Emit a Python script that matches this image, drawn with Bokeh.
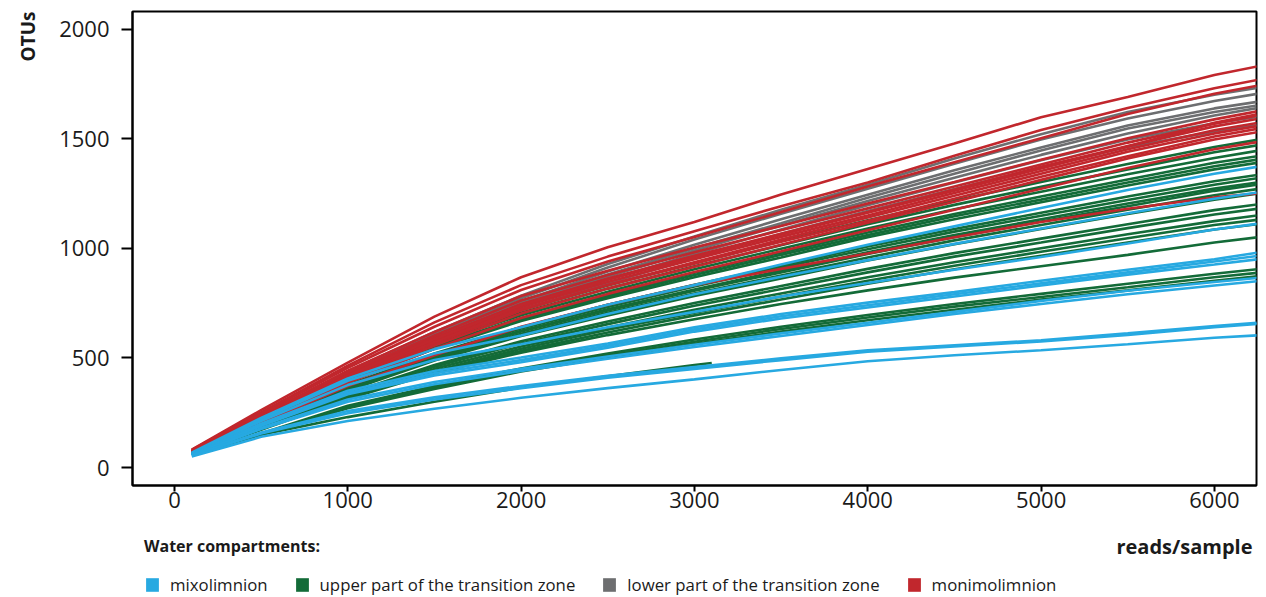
from bokeh.plotting import figure
from bokeh.layouts import column
from bokeh.models import Legend, LegendItem, Label, Range1d, FixedTicker, Title
from bokeh.embed import file_html
from bokeh.resources import INLINE

READS = [100, 500, 1000, 1500, 2000, 2500, 3000, 3500, 4000, 4500, 5000, 5500, 6000, 6250]

mixolimnion = [
    [68, 226, 406, 540, 640, 742, 832, 926, 1016, 1100, 1184, 1266, 1340, 1372],
    [66, 220, 396, 520, 602, 700, 790, 870, 946, 1020, 1090, 1160, 1226, 1255],
    [64, 212, 376, 490, 562, 640, 710, 780, 842, 902, 960, 1022, 1086, 1112],
    [62, 200, 350, 440, 502, 566, 640, 700, 752, 800, 852, 902, 950, 980],
    [60, 196, 340, 430, 490, 556, 630, 690, 740, 790, 840, 890, 940, 965],
    [60, 190, 334, 420, 480, 546, 620, 680, 730, 780, 830, 880, 926, 950],
    [58, 180, 310, 390, 450, 506, 560, 612, 660, 710, 760, 806, 846, 865],
    [58, 176, 300, 380, 440, 496, 550, 600, 650, 700, 746, 790, 830, 850],
    [56, 160, 258, 320, 372, 418, 458, 498, 535, 558, 580, 612, 645, 660],
    [55, 155, 248, 310, 362, 410, 450, 490, 528, 552, 575, 605, 640, 655],
    [50, 140, 212, 268, 318, 362, 402, 445, 485, 512, 535, 562, 592, 603],
]

upper_transition = [
    [72, 232, 430, 590, 718, 830, 934, 1032, 1128, 1218, 1302, 1384, 1462, 1495],
    [71, 225, 424, 580, 706, 816, 918, 1014, 1110, 1198, 1280, 1360, 1438, 1470],
    [70, 222, 415, 568, 694, 802, 904, 998, 1090, 1178, 1258, 1338, 1412, 1445],
    [70, 218, 406, 556, 682, 788, 888, 980, 1072, 1156, 1236, 1314, 1390, 1420],
    [69, 215, 398, 548, 674, 780, 878, 970, 1060, 1146, 1222, 1300, 1374, 1405],
    [69, 213, 392, 542, 668, 772, 868, 958, 1050, 1132, 1210, 1286, 1360, 1390],
    [68, 205, 378, 520, 640, 742, 834, 920, 1008, 1088, 1162, 1236, 1306, 1335],
    [67, 203, 372, 516, 634, 732, 826, 912, 996, 1076, 1148, 1220, 1290, 1320],
    [67, 200, 366, 508, 624, 722, 812, 898, 982, 1060, 1132, 1204, 1272, 1300],
    [66, 198, 360, 502, 620, 716, 806, 890, 974, 1050, 1122, 1192, 1262, 1290],
    [66, 195, 356, 496, 610, 706, 794, 876, 958, 1036, 1106, 1176, 1242, 1270],
    [65, 192, 350, 488, 600, 694, 782, 862, 944, 1018, 1088, 1156, 1222, 1250],
    [64, 185, 336, 468, 576, 666, 750, 828, 906, 978, 1044, 1110, 1174, 1200],
    [64, 182, 330, 460, 566, 654, 738, 814, 890, 962, 1026, 1092, 1154, 1180],
    [63, 178, 322, 450, 552, 638, 720, 794, 868, 936, 1000, 1064, 1124, 1150],
    [62, 175, 316, 440, 542, 628, 706, 780, 852, 920, 984, 1046, 1106, 1130],
    [62, 172, 312, 432, 532, 616, 694, 766, 838, 904, 966, 1026, 1086, 1110],
    [62, 175, 326, 430, 524, 604, 676, 746, 808, 866, 918, 970, 1026, 1050],
    [60, 155, 282, 372, 452, 520, 584, 642, 696, 746, 792, 838, 884, 905],
    [60, 152, 276, 366, 446, 512, 574, 632, 684, 734, 778, 822, 868, 888],
    [59, 150, 270, 358, 438, 502, 564, 620, 672, 720, 766, 808, 852, 872],
]
upper_short_reads = [100, 500, 1000, 1500, 2000, 2500, 3000, 3100]
upper_short = [64, 150, 230, 300, 365, 416, 468, 477]

lower_transition = [
    [72, 230, 438, 618, 784, 928, 1054, 1176, 1290, 1410, 1520, 1622, 1700, 1732],
    [72, 228, 434, 608, 772, 912, 1040, 1158, 1272, 1386, 1496, 1592, 1672, 1705],
    [70, 224, 428, 600, 758, 894, 1016, 1132, 1244, 1356, 1460, 1560, 1638, 1668],
    [70, 222, 424, 594, 750, 880, 1000, 1114, 1230, 1340, 1446, 1546, 1622, 1652],
    [70, 220, 420, 588, 744, 870, 990, 1104, 1216, 1322, 1426, 1524, 1606, 1640],
    [68, 218, 414, 580, 730, 856, 974, 1086, 1196, 1300, 1402, 1496, 1570, 1600],
    [68, 214, 408, 570, 720, 840, 956, 1066, 1170, 1270, 1370, 1462, 1532, 1562],
]

monimolimnion = [
    [82, 262, 478, 688, 868, 1005, 1120, 1245, 1362, 1478, 1598, 1690, 1790, 1830],
    [80, 252, 465, 662, 832, 962, 1078, 1192, 1300, 1422, 1540, 1640, 1730, 1768],
    [78, 246, 455, 642, 810, 940, 1052, 1165, 1282, 1392, 1502, 1612, 1705, 1742],
    [76, 238, 442, 618, 782, 898, 1004, 1102, 1204, 1302, 1404, 1502, 1588, 1625],
    [75, 232, 432, 602, 762, 878, 982, 1082, 1182, 1282, 1382, 1482, 1568, 1605],
    [74, 228, 422, 592, 746, 862, 966, 1066, 1166, 1268, 1372, 1466, 1556, 1590],
    [73, 222, 412, 578, 732, 846, 950, 1052, 1150, 1252, 1352, 1452, 1538, 1572],
    [72, 218, 406, 566, 716, 832, 936, 1040, 1140, 1240, 1340, 1440, 1524, 1558],
    [72, 224, 414, 572, 722, 832, 930, 1030, 1126, 1226, 1326, 1420, 1510, 1545],
    [70, 212, 396, 556, 702, 816, 916, 1016, 1116, 1212, 1312, 1410, 1496, 1530],
    [68, 206, 386, 542, 682, 792, 892, 986, 1082, 1176, 1272, 1366, 1452, 1485],
    [74, 226, 420, 586, 740, 856, 960, 1062, 1162, 1262, 1364, 1464, 1572, 1612],
    [66, 202, 372, 512, 642, 742, 832, 906, 976, 1050, 1120, 1180, 1232, 1250],
]

X_TICKS = [0, 1000, 2000, 3000, 4000, 5000, 6000]
Y_TICKS = [0, 500, 1000, 1500, 2000]
GROUP_NAMES = ["mixolimnion", "upper part of the transition zone",
               "lower part of the transition zone", "monimolimnion"]
COLORS = ["#27A9E1", "#136B38", "#6D6E70", "#C1272D"]

FONT = "Open Sans"
TXT = "#1a1a1a"

# ---------------- main plot ----------------
p = figure(width=1266, height=525,
           x_range=Range1d(-242, 6243), y_range=Range1d(-82, 2080),
           output_backend="svg", toolbar_location=None,
           min_border_left=132, min_border_right=10, min_border_top=11,
           min_border_bottom=40)
p.grid.visible = False
p.outline_line_color = "black"
p.outline_line_width = 2
p.outline_line_alpha = 1

LW = 2.6
for ys in upper_transition:
    p.line(READS, ys, line_color=COLORS[1], line_width=LW)
p.line(upper_short_reads, upper_short, line_color=COLORS[1], line_width=LW)
for ys in lower_transition:
    p.line(READS, ys, line_color=COLORS[2], line_width=LW)
for ys in monimolimnion:
    p.line(READS, ys, line_color=COLORS[3], line_width=LW)
for ys in mixolimnion:
    p.line(READS, ys, line_color=COLORS[0], line_width=LW)

p.xaxis.ticker = FixedTicker(ticks=X_TICKS)
p.yaxis.ticker = FixedTicker(ticks=Y_TICKS)
for ax in (p.xaxis[0], p.yaxis[0]):
    ax.minor_tick_line_color = None
    ax.major_tick_in = 0
    ax.axis_line_color = "black"
    ax.axis_line_width = 2
    ax.major_tick_line_color = "black"
    ax.major_tick_line_width = 2
    ax.major_label_text_font = FONT
    ax.major_label_text_font_size = "22px"
    ax.major_label_text_color = TXT
p.yaxis.major_tick_out = 11
p.yaxis.major_label_standoff = 12
p.xaxis.major_tick_out = 6
p.xaxis.major_label_standoff = 0

p.add_layout(Title(text="OTUs", align="right", vertical_align="top",
                   text_font=FONT, text_font_style="bold",
                   text_font_size="19px", text_color=TXT, standoff=28), "left")

# ---------------- bottom strip: x-axis title and legend ----------------
q = figure(width=1266, height=72, x_range=Range1d(0, 1), y_range=Range1d(0, 1),
           output_backend="svg", toolbar_location=None,
           x_axis_type=None, y_axis_type=None,
           min_border=0, min_border_left=0, min_border_right=0,
           min_border_top=0, min_border_bottom=0)
q.grid.visible = False
q.outline_line_color = None

q.add_layout(Label(x=1120, y=51, x_units="screen", y_units="screen",
                   text="reads/sample", text_align="right",
                   text_baseline="alphabetic", text_font=FONT,
                   text_font_style="bold", text_font_size="20px",
                   text_color=TXT))

items = []
for name, c in zip(GROUP_NAMES, COLORS):
    r = q.quad(left=[0], right=[0], top=[0], bottom=[0],
               fill_color=c, line_color=None)
    items.append(LegendItem(label=name, renderers=[r]))

legend = Legend(items=items, orientation="horizontal", location=(12, 1),
                title="Water compartments:", title_text_font=FONT,
                title_text_font_style="bold", title_text_font_size="16px",
                title_text_color=TXT, title_standoff=16,
                label_text_font=FONT, label_text_font_size="16.8px",
                label_text_color=TXT, label_height=17,
                glyph_width=16, glyph_height=17, label_standoff=10, spacing=26,
                padding=0, margin=0, border_line_color=None,
                background_fill_alpha=0)
q.add_layout(legend, "center")

layout = column(p, q, spacing=0)
open("out.html", "w").write(file_html(layout, INLINE))
